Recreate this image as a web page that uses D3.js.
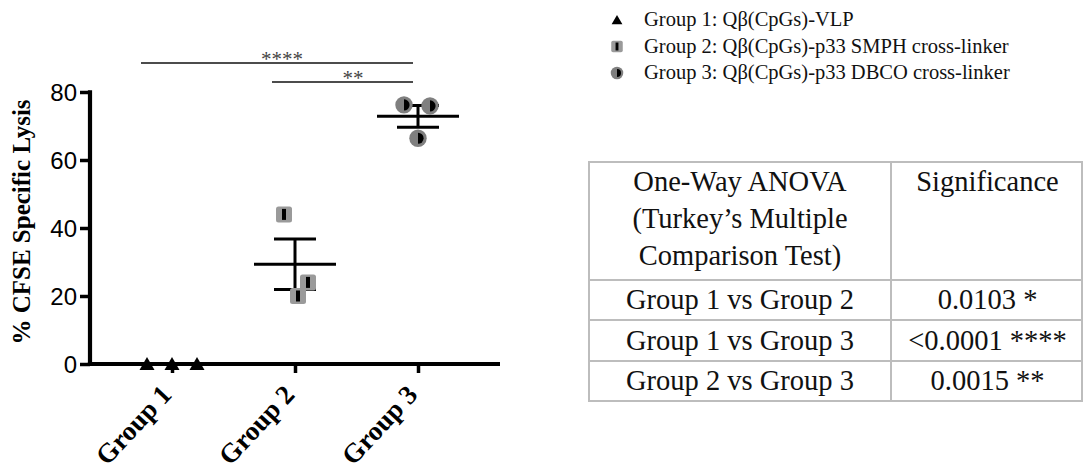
<!DOCTYPE html>
<html>
<head>
<meta charset="utf-8">
<script src="https://cdn.jsdelivr.net/npm/d3@7"></script>
<style>
  html, body { margin: 0; padding: 0; background: #fff; }
  svg { display: block; }
</style>
</head>
<body>
<svg id="chart" width="1086" height="470"></svg>
<script>
// ---- data -------------------------------------------------------------
const groups = ["Group 1", "Group 2", "Group 3"];
const group1Values = [0, 0, 0];
const group2Values = [44, 20, 24];
const group3Values = [76.2, 75.9, 66.4];
const yTicks = [0, 20, 40, 60, 80];

const legendLabels = [
  "Group 1: Qβ(CpGs)-VLP",
  "Group 2: Qβ(CpGs)-p33 SMPH cross-linker",
  "Group 3: Qβ(CpGs)-p33 DBCO cross-linker"
];

const comparisons = [
  { from: "Group 1", to: "Group 3", label: "****" },
  { from: "Group 2", to: "Group 3", label: "**" }
];

const tableHeader = [["One-Way ANOVA", "(Turkey’s Multiple", "Comparison Test)"], ["Significance"]];
const tableRows = [
  ["Group 1 vs Group 2", "0.0103 *"],
  ["Group 1 vs Group 3", "<0.0001 ****"],
  ["Group 2 vs Group 3", "0.0015 **"]
];

// ---- layout -------------------------------------------------------------
const svg = d3.select("#chart");
const serif = "'Liberation Serif', serif";
const sans = "'Liberation Sans', Arial, sans-serif";

const axisX0 = 90, axisX1 = 500;
const y = d3.scaleLinear().domain([0, 80]).range([364, 92]);
const x = d3.scalePoint().domain(groups).range([172, 418]);

// horizontal spread of replicate points within each group column
const spread = [[-25, 0, 25], [-11, 3, 13], [-14, 12, 0]];

const seriesValues = [group1Values, group2Values, group3Values];
const points = [];
seriesValues.forEach((vals, gi) => vals.forEach((v, i) => points.push({ g: groups[gi], gi, v, dx: spread[gi][i] })));

// ---- axes -------------------------------------------------------------
const yAxis = svg.append("g")
  .attr("transform", `translate(${axisX0},0)`)
  .call(d3.axisLeft(y).tickValues(yTicks).tickSize(10).tickSizeOuter(0).tickPadding(3));
yAxis.select(".domain").remove();
yAxis.selectAll(".tick line").attr("stroke", "#000").attr("stroke-width", 3.5);
yAxis.selectAll(".tick text").attr("font-family", sans).attr("font-size", 24).attr("fill", "#000")
  .attr("dy", "0.36em");
svg.append("line")
  .attr("x1", axisX0).attr("x2", axisX0)
  .attr("y1", y(80) - 1.75).attr("y2", y(0))
  .attr("stroke", "#000").attr("stroke-width", 4.2);

const xAxis = svg.append("g")
  .attr("transform", `translate(0,${y(0)})`)
  .call(d3.axisBottom(x).tickSize(9).tickSizeOuter(0).tickFormat(""));
xAxis.select(".domain").remove();
xAxis.selectAll(".tick line").attr("stroke", "#000").attr("stroke-width", 3.5);
svg.append("line")
  .attr("x1", axisX0 - 2.1).attr("x2", axisX1)
  .attr("y1", y(0)).attr("y2", y(0))
  .attr("stroke", "#000").attr("stroke-width", 4.2);

svg.append("g").selectAll("text").data(groups).join("text")
  .attr("transform", d => `translate(${x(d) + 1},396) rotate(-47)`)
  .attr("text-anchor", "end")
  .attr("font-family", serif).attr("font-weight", "bold").attr("font-size", 27)
  .text(d => d);

svg.append("text")
  .attr("transform", `translate(30,${(y(80) + y(0)) / 2 - 6}) rotate(-90)`)
  .attr("text-anchor", "middle")
  .attr("font-family", serif).attr("font-weight", "bold").attr("font-size", 25)
  .text("% CFSE Specific Lysis");

// ---- mean ± SEM -------------------------------------------------------
const stats = seriesValues.map((vals, gi) => {
  const m = d3.mean(vals);
  const sem = d3.deviation(vals) / Math.sqrt(vals.length);
  return { g: groups[gi], m, sem };
}).filter(s => s.sem > 0);

const err = svg.append("g").attr("stroke", "#000").attr("stroke-width", 3);
err.selectAll(".mean").data(stats).join("line")
  .attr("x1", d => x(d.g) - 41).attr("x2", d => x(d.g) + 41)
  .attr("y1", d => y(d.m)).attr("y2", d => y(d.m));
err.selectAll(".stem").data(stats).join("line")
  .attr("x1", d => x(d.g)).attr("x2", d => x(d.g))
  .attr("y1", d => y(d.m - d.sem)).attr("y2", d => y(d.m + d.sem));
err.selectAll(".capHi").data(stats).join("line")
  .attr("x1", d => x(d.g) - 21).attr("x2", d => x(d.g) + 21)
  .attr("y1", d => y(d.m + d.sem)).attr("y2", d => y(d.m + d.sem));
err.selectAll(".capLo").data(stats).join("line")
  .attr("x1", d => x(d.g) - 21).attr("x2", d => x(d.g) + 21)
  .attr("y1", d => y(d.m - d.sem)).attr("y2", d => y(d.m - d.sem));

// ---- markers -----------------------------------------------------------
function drawMarker(sel, gi, scale) {
  const s = scale || 1;
  if (gi === 0) {
    sel.append("path").attr("d", `M0,${-7 * s}L${7.5 * s},${6 * s}L${-7.5 * s},${6 * s}Z`).attr("fill", "#000");
  } else if (gi === 1) {
    sel.append("rect").attr("x", -8 * s).attr("y", -8 * s).attr("width", 16 * s).attr("height", 16 * s)
      .attr("rx", 2.5 * s).attr("fill", "#9a9a9a");
    sel.append("rect").attr("x", -2 * s).attr("y", -5.5 * s).attr("width", 4 * s).attr("height", 11 * s).attr("fill", "#000");
  } else {
    sel.append("circle").attr("r", 8.7 * s).attr("fill", "#7f7f7f");
    sel.append("path").attr("d", `M0,${-5.6 * s}A${5.6 * s},${5.6 * s} 0 0 1 0,${5.6 * s}Z`).attr("fill", "#000");
  }
}

svg.append("g").selectAll("g").data(points).join("g")
  .attr("transform", d => `translate(${x(d.g) + d.dx},${y(d.v)})`)
  .each(function (d) { drawMarker(d3.select(this), d.gi); });

// ---- significance brackets -----------------------------------------
const bracketY = [63, 82];
const bracketStart = [141, 272];
const bracketEnd = 413;
const labelX = [282, 353];
const br = svg.append("g");
comparisons.forEach((c, i) => {
  br.append("line").attr("x1", bracketStart[i]).attr("x2", bracketEnd)
    .attr("y1", bracketY[i]).attr("y2", bracketY[i])
    .attr("stroke", "#111").attr("stroke-width", 1.5);
  br.append("text").attr("x", labelX[i]).attr("y", bracketY[i] + 3)
    .attr("text-anchor", "middle").attr("font-family", serif).attr("font-size", 21).attr("fill", "#444")
    .text(c.label);
});

// ---- legend ------------------------------------------------------------
const legend = svg.append("g");
const legendRows = legend.selectAll("g").data(legendLabels).join("g")
  .attr("transform", (d, i) => `translate(617,${20 + i * 26.5})`);
legendRows.each(function (d, i) { drawMarker(d3.select(this), i, 0.72); });
legendRows.append("text").attr("x", 27).attr("y", 6)
  .attr("font-family", serif).attr("font-size", 20.5).attr("fill", "#111")
  .text(d => d);

// ---- ANOVA table ------------------------------------------------------
const colX = [589, 891, 1082];
const rowY = [162, 280, 320, 361, 401];
const gridColor = "#bdbdbd";
const table = svg.append("g");
table.append("rect")
  .attr("x", colX[0]).attr("y", rowY[0])
  .attr("width", colX[2] - colX[0]).attr("height", rowY[4] - rowY[0])
  .attr("fill", "none").attr("stroke", gridColor).attr("stroke-width", 2);
table.append("line").attr("x1", colX[1]).attr("x2", colX[1]).attr("y1", rowY[0]).attr("y2", rowY[4])
  .attr("stroke", gridColor).attr("stroke-width", 2);
table.selectAll(".rowline").data(rowY.slice(1, 4)).join("line")
  .attr("x1", colX[0]).attr("x2", colX[2]).attr("y1", d => d).attr("y2", d => d)
  .attr("stroke", gridColor).attr("stroke-width", 2);

const colCenter = [(colX[0] + colX[1]) / 2, (colX[1] + colX[2]) / 2 + 1];
tableHeader.forEach((lines, ci) => {
  table.append("g").selectAll("text").data(lines).join("text")
    .attr("x", colCenter[ci]).attr("y", (d, li) => 191 + li * 37)
    .attr("text-anchor", "middle").attr("font-family", serif).attr("font-size", 28.5).attr("fill", "#111")
    .text(d => d);
});
tableRows.forEach((row, ri) => {
  const mid = (rowY[ri + 1] + rowY[ri + 2]) / 2;
  table.append("g").selectAll("text").data(row).join("text")
    .attr("x", (d, ci) => colCenter[ci]).attr("y", mid + 9)
    .attr("text-anchor", "middle").attr("font-family", serif).attr("font-size", 28.5).attr("fill", "#111")
    .text(d => d);
});
</script>
</body>
</html>
